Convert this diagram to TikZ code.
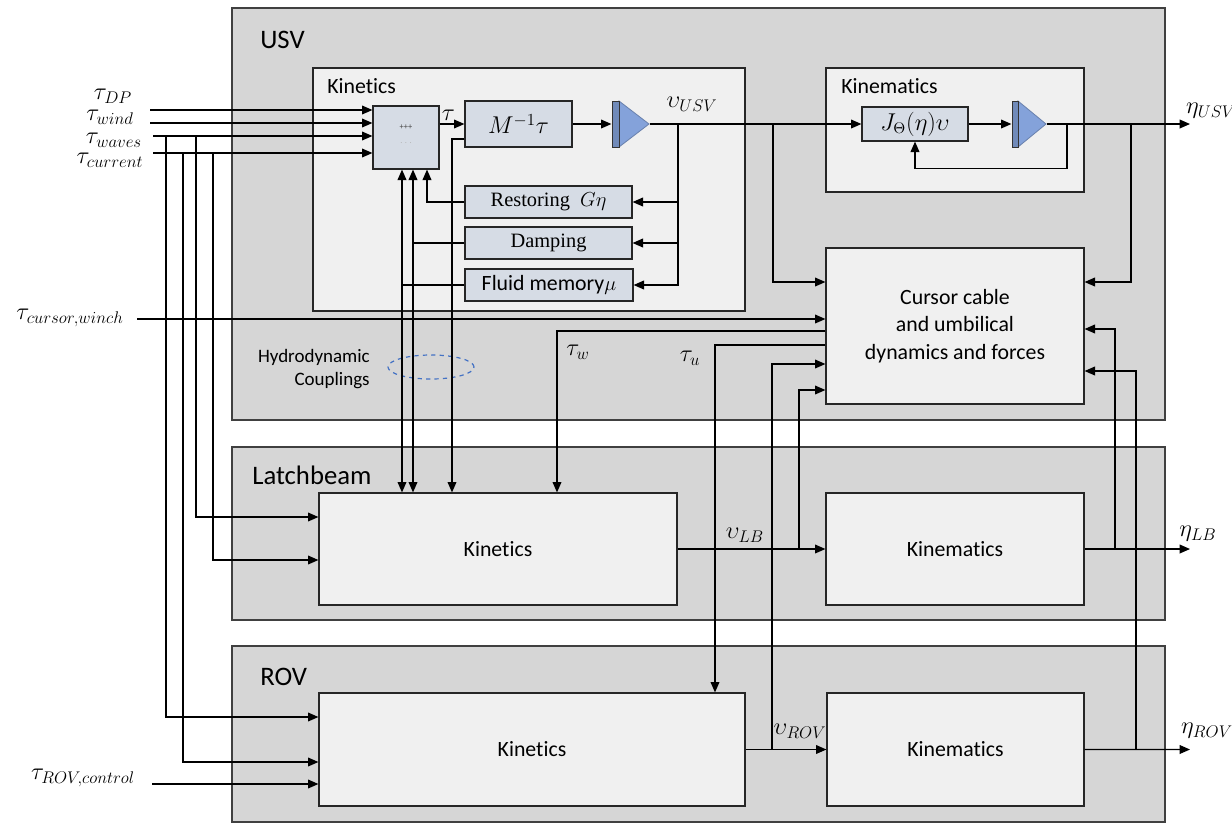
\documentclass[tikz,border=0pt]{standalone}
\usepackage{fontspec}
\setmainfont{Carlito}[Ligatures=NoCommon]
\newfontfamily\seriffont{Liberation Serif}
\usetikzlibrary{fit,positioning,calc,arrows.meta,shapes.geometric}

\definecolor{framegray}{RGB}{214,214,214}
\definecolor{boxgray}{RGB}{240,240,240}
\definecolor{blueblock}{RGB}{214,220,229}
\definecolor{intblue}{RGB}{132,162,218}
\definecolor{hydroblue}{RGB}{68,114,196}

\begin{document}
\begin{tikzpicture}[x=0.025cm, y=-0.025cm, line width=0.85pt,
    every node/.style={font=\fontsize{15.5}{19.5}\selectfont},
    frame/.style={draw=black!75, fill=framegray, inner sep=0pt},
    block/.style={draw=black!85, fill=boxgray, inner sep=0pt},
    bblock/.style={draw=black!85, fill=blueblock, inner sep=0pt},
    seriftext/.style={font=\seriffont\fontsize{14.5}{17}\selectfont},
    sig/.style={font=\fontsize{16.5}{18}\selectfont, inner sep=0pt},
    title/.style={anchor=west, font=\fontsize{19}{22}\selectfont},
    arr/.style={-{Triangle[length=2.6mm,width=2.2mm]}},
    arrtwo/.style={{Triangle[length=2.6mm,width=2.2mm]}-{Triangle[length=2.6mm,width=2.2mm]}},
    coupling/.style={ellipse, draw=hydroblue, dashed, minimum width=2.15cm, minimum height=0.6cm}]
  \fill[white] (0,0) rectangle (1232,824);
  \useasboundingbox (0,0) rectangle (1232,824);

  % the three bodies
  \node[frame, fit={(232,8) (1165,420)}] (usv) {};
  \node[frame, fit={(232,447) (1165,620)}] (lb) {};
  \node[frame, fit={(232,646) (1165,822)}] (rov) {};
  \node[title] (usvlbl) at (255,40) {USV};
  \node[title] (lblbl) at (247,475) {Latchbeam};
  \node[title] (rovlbl) at (255,677) {ROV};

  % USV kinetics
  \node[block, fit={(313,68) (745,311)}] (ukin) {};
  \node[anchor=west] (ukinlbl) at (322,86) {Kinetics};
  \node[bblock, fit={(373,106) (439,169)}] (sum) {};
  \node[font=\fontsize{6}{6}\selectfont, text=black!70] at (406,127) {+++};
  \node[font=\fontsize{6}{6}\selectfont, text=black!30] at (406,143) {. . .};
  \node[bblock, fit={(465,101) (572,147)}] (minv) {};
  \node[font=\fontsize{17}{20}\selectfont] at (minv) {$M^{-1}\tau$};
  \node[inner sep=0pt, fit={(612,101) (649,147)}] (int1) {};
  \draw[fill=intblue, draw=intblue!80!black, line width=0.6pt] (619,101) -- (649,124) -- (619,147) -- cycle;
  \draw[fill=intblue!85!black, draw=black!80, line width=0.6pt] (612,101) rectangle (619,147);
  \node[bblock, fit={(465,186) (632,218)}] (restoring) {};
  \node[seriftext] at (restoring) {Restoring~~$G\eta$};
  \node[bblock, fit={(465,227) (632,259)}] (damping) {};
  \node[seriftext] at (damping) {Damping};
  \node[bblock, fit={(465,269) (633,301)}] (fluid) {};
  \node at (fluid) {Fluid memory$\mu$};

  % USV kinematics
  \node[block, fit={(826,68) (1084,192)}] (ukinem) {};
  \node[anchor=west] (ukinemlbl) at (836,86) {Kinematics};
  \node[bblock, fit={(862,107) (968,141)}] (jbox) {};
  \node[font=\fontsize{16}{18}\selectfont] at (jbox) {$J_{\Theta}(\eta)\upsilon$};
  \node[inner sep=0pt, fit={(1012,101) (1046,147)}] (int2) {};
  \draw[fill=intblue, draw=intblue!80!black, line width=0.6pt] (1018,101) -- (1046,124) -- (1018,147) -- cycle;
  \draw[fill=intblue!85!black, draw=black!80, line width=0.6pt] (1012,101) rectangle (1018,147);

  % cursor cable
  \node[block, fit={(826,248) (1084,404)}] (cursor) {};
  \node[align=center] at (cursor) {Cursor cable\\and umbilical\\dynamics and forces};

  % latchbeam and ROV
  \node[block, fit={(319,493) (677,605)}] (lbkin) {};
  \node[block, fit={(826,493) (1084,605)}] (lbkinem) {};
  \node[block, fit={(319,693) (745,806)}] (rovkin) {};
  \node[block, fit={(827,693) (1084,806)}] (rovkinem) {};
  \node at (lbkin) {Kinetics};
  \node at (lbkinem) {Kinematics};
  \node at (rovkin) {Kinetics};
  \node at (rovkinem) {Kinematics};

  % hydrodynamic couplings
  \node[coupling] (hydro) at (431,367) {};
  \node[anchor=east, align=right, font=\fontsize{13.5}{17}\selectfont] (hydrolbl) at (375,369) {Hydrodynamic\\Couplings};

  % external inputs
  \coordinate (dp) at (150,110);
  \coordinate (wind) at (150,123);
  \coordinate (waves) at (153,136);
  \coordinate (cur) at (153,153);
  \coordinate (cw) at (137,319);
  \coordinate (rc) at (152,784);
  \node[sig] at (113,96) {$\tau_{DP}$};
  \node[sig] at (110,117) {$\tau_{wind}$};
  \node[sig] at (114,140.5) {$\tau_{waves}$};
  \node[sig] at (110,160) {$\tau_{current}$};
  \node[sig] at (70,318) {$\tau_{cursor,winch}$};
  \node[sig] at (83,778) {$\tau_{ROV,control}$};
  \draw[arr] (dp) -- (dp -| sum.west);
  \draw[arr] (wind) -- (wind -| sum.west);
  \draw[arr] (waves) -- (waves -| sum.west);
  \draw[arr] (cur) -- (cur -| sum.west);
  \draw[arr] (cw) -- (cw -| cursor.west);
  \draw[arr] (rc) -- (rc -| rovkin.west);

  % waves and current down to latchbeam and ROV
  \coordinate (wv1) at (166,136);
  \coordinate (wv2) at (196,136);
  \coordinate (cu1) at (183,153);
  \coordinate (cu2) at (213,153);
  \draw[arr] (wv1) |- ($(rovkin.west)+(0,-32.5)$);
  \draw[arr] (cu1) |- ($(rovkin.west)+(0,12.5)$);
  \draw[arr] (wv2) |- ($(lbkin.west)+(0,-32)$);
  \draw[arr] (cu2) |- ($(lbkin.west)+(0,11)$);

  % USV kinetics loop
  \draw[arr] (sum.east |- minv.west) -- (minv.west) node[pos=0.35, above=2pt, sig] {$\tau$};
  \draw[arr] (minv.east) -- (int1.west);
  \draw[arr] (int1.east) -- (jbox.west);
  \node[sig] (vusv) at (692,104) {$\upsilon_{USV}$};
  \coordinate (vu) at (678,124);
  \coordinate (vu2) at (773,124);
  \draw[arr] (vu) |- (restoring.east);
  \draw[arr] (vu) |- (damping.east);
  \draw[arr] (vu) |- (fluid.east);
  \coordinate (s1) at ($(sum.south)+(-4,0)$);
  \coordinate (s2) at ($(sum.south)+(7,0)$);
  \coordinate (s3) at ($(sum.south)+(21,0)$);
  \draw[arr] (restoring.west) -| (s3);
  \draw (damping.west) -- (damping.west -| s2);
  \draw (fluid.west) -- (fluid.west -| s1);
  \draw[arrtwo] (s1) -- (s1 |- lbkin.north);
  \draw[arrtwo] (s2) -- (s2 |- lbkin.north);
  \coordinate (mt) at ($(minv.west)+(0,15)$);
  \draw[arr] (mt) -| ($(lbkin.north)+(-46,0)$);
  \draw[arr] (vu2) |- ($(cursor.west)+(0,-44)$);

  % USV kinematics loop
  \draw[arr] (jbox.east) -- (int2.west);
  \coordinate (eu) at (1190,124);
  \draw[arr] (int2.east) -- (eu);
  \node[sig] (etausv) at (1211,111) {$\eta_{USV}$};
  \coordinate (fb) at (1067,124);
  \draw[arr] (fb) |- ($(jbox.south)+(0,27)$) -- (jbox.south);
  \coordinate (eu2) at (1131,124);
  \draw[arr] (eu2) |- ($(cursor.east)+(0,-44)$);

  % cable forces out
  \coordinate (tw) at ($(cursor.west)+(0,5)$);
  \coordinate (tu) at ($(cursor.west)+(0,19)$);
  \draw[arr] (tw) -| ($(lbkin.north)+(59,0)$);
  \draw[arr] (tu) -| ($(rovkin.north)+(183,0)$);
  \node[sig] (twlbl) at (578,352) {$\tau_w$};
  \node[sig] (tulbl) at (690,358) {$\tau_u$};

  % latchbeam signals
  \draw[arr] (lbkin.east) -- (lbkinem.west);
  \node[sig] (vlb) at (745,535) {$\upsilon_{LB}$};
  \coordinate (vl) at (799,549);
  \draw[arr] (vl) |- ($(cursor.west)+(0,64)$);
  \coordinate (el) at (1190,549);
  \draw[arr] (lbkinem.east) -- (el);
  \node[sig] (etalb) at (1198,534) {$\eta_{LB}$};
  \coordinate (el2) at (1115,549);
  \draw[arr] (el2) |- ($(cursor.east)+(0,3)$);

  % ROV signals
  \draw[arr] (rovkin.east) -- (rovkinem.west);
  \node[sig] (vrov) at (800,731) {$\upsilon_{ROV}$};
  \coordinate (vr) at (772,749.5);
  \draw[arr] (vr) |- ($(cursor.west)+(0,38)$);
  \coordinate (er) at (1190,749.5);
  \draw[arr] (rovkinem.east) -- (er);
  \node[sig] (etarov) at (1207,731) {$\eta_{ROV}$};
  \coordinate (er2) at (1136,749.5);
  \draw[arr] (er2) |- ($(cursor.east)+(0,45)$);
\end{tikzpicture}
\end{document}
